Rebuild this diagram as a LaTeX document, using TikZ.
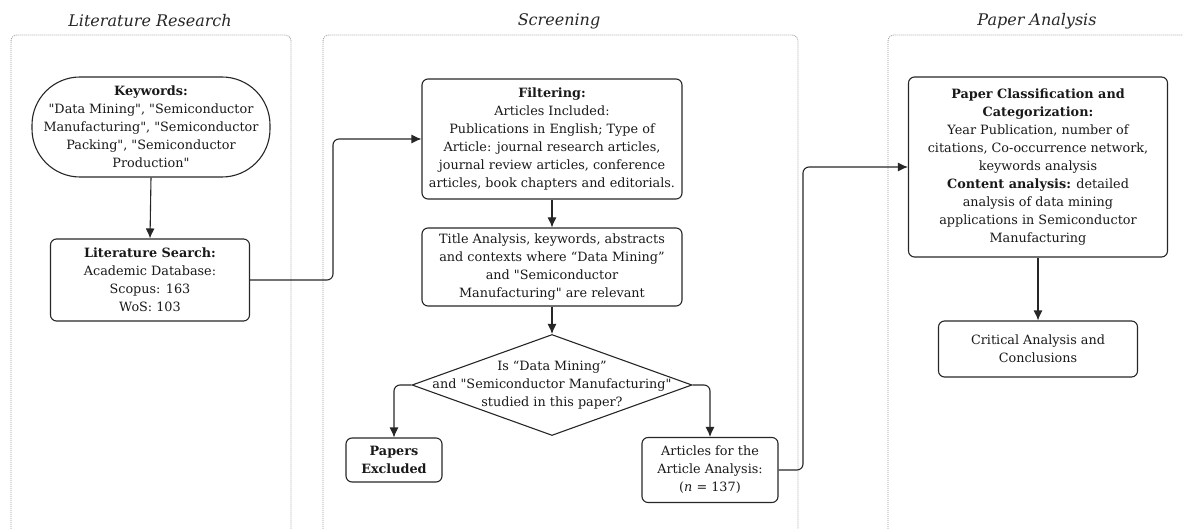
\documentclass[tikz,border=0pt]{standalone}
\usepackage{fontspec}
\setmainfont{DejaVu Serif}[Ligatures=TeXOff]
\usetikzlibrary{arrows.meta,shapes.geometric,calc}
\begin{document}
\begin{tikzpicture}[x=1pt,y=-1pt,
  frame/.style={draw=gray!80, line width=0.8pt, dash pattern=on 1pt off 1pt, rounded corners=6pt},
  ttl/.style={font=\fontsize{16}{18}\selectfont\itshape, text=black!85},
  box/.style={draw=black!85, line width=1.1pt, rounded corners=6pt, align=center, inner sep=1pt,
    font=\fontsize{12.8}{18}\selectfont, text=black!90},
  conn/.style={draw=black!85, line width=1.1pt, -{Latex[length=10pt,width=9pt]}, rounded corners=6pt}
]
\useasboundingbox (0,0) rectangle (1183,529);
% frames
\draw[frame] (11,545) -- (11,35) -- (291,35) -- (291,545);
\draw[frame] (323,545) -- (323,35) -- (798,35) -- (798,545);
\draw[frame] (888,545) -- (888,35) -- (1200,35);
\node[ttl] (t1) at (150,21) {Literature Research};
\node[ttl] (t2) at (559,21) {Screening};
\node[ttl] (t3) at (1037,21) {Paper Analysis};

% nodes
\node[box, rounded corners=48pt, minimum width=238, minimum height=100] (kw) at (151,127)
  {\textbf{Keywords:}\\"Data Mining", "Semiconductor\\Manufacturing", "Semiconductor\\Packing", "Semiconductor\\Production"};
\node[box, minimum width=199, minimum height=82] (ls) at (150,280)
  {\textbf{Literature Search:}\\Academic Database:\\Scopus: 163\\WoS: 103};
\node[box, minimum width=260, minimum height=120] (filt) at (552,139)
  {\textbf{Filtering:}\\Articles Included:\\Publications in English; Type of\\Article: journal research articles,\\journal review articles, conference\\articles, book chapters and editorials.};
\node[box, minimum width=260, minimum height=78] (ta) at (552,267)
  {Title Analysis, keywords, abstracts\\and contexts where “Data Mining”\\and "Semiconductor\\Manufacturing" are relevant};
\node[diamond, draw=black!85, line width=1.1pt, minimum width=280, minimum height=101, inner sep=0pt] (dec) at (552,385) {};
\node[align=center, font=\fontsize{12.8}{18}\selectfont, text=black!90] (dect) at (552,385)
  {Is “Data Mining”\\and "Semiconductor Manufacturing"\\studied in this paper?};
\node[box, minimum width=96, minimum height=44] (pe) at (394,460) {\textbf{Papers}\\\textbf{Excluded}};
\node[box, minimum width=136, minimum height=65] (art) at (710,470)
  {Articles for the\\Article Analysis:\\(\textit{n} = 137)};
\node[box, minimum width=259, minimum height=180] (pc) at (1038,167)
  {\textbf{Paper Classification and}\\\textbf{Categorization:}\\Year Publication, number of\\citations, Co-occurrence network,\\keywords analysis\\\textbf{Content analysis:} detailed\\analysis of data mining\\applications in Semiconductor\\Manufacturing};
\node[box, minimum width=199, minimum height=56] (cr) at (1038,349)
  {Critical Analysis and\\Conclusions};

% connectors
\coordinate (c1) at (333,280);
\coordinate (c2) at (803,470);
\draw[conn] (kw.south) -- (ls.north);
\draw[conn] (ls.east) -- (c1) |- (filt.west);
\draw[conn] (filt.south) -- (ta.north);
\draw[conn] (ta.south) -- (dec.north);
\draw[conn] (dec.west) -| (pe.north);
\draw[conn] (dec.east) -| (art.north);
\draw[conn] (art.east) -- (c2) |- (pc.west);
\draw[conn] (pc.south) -- (cr.north);
\end{tikzpicture}
\end{document}
